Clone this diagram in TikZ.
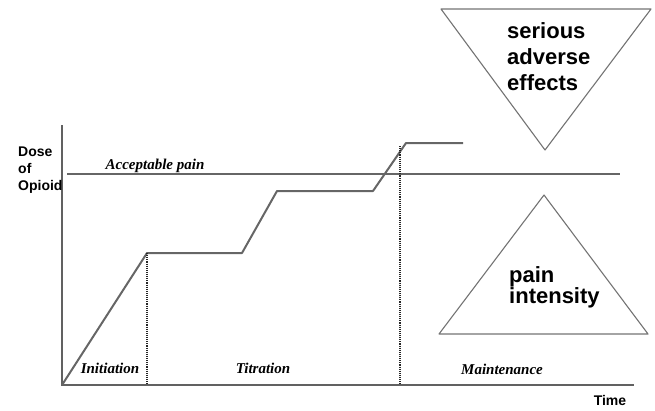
\documentclass[tikz,border=0pt]{standalone}
\usepackage{fontspec}
\setmainfont{Liberation Serif}
\setsansfont{Liberation Sans}
\usetikzlibrary{positioning}

\begin{document}
\begin{tikzpicture}[x=1pt, y=-1pt,
    axis/.style={draw=black!62, line width=2.4pt},
    dose/.style={draw=black!60, line width=2pt, line join=round},
    goal/.style={draw=black!60, line width=2.4pt},
    phase/.style={draw=black!85, densely dotted, line width=1.1pt},
    tri/.style={draw=black!55, line width=1.1pt, line join=round},
    lbl/.style={font=\sffamily\bfseries\fontsize{14}{17}\selectfont, align=left, inner sep=0pt},
    big/.style={font=\sffamily\bfseries\fontsize{22}{26}\selectfont, align=left, inner sep=0pt},
    stage/.style={font=\bfseries\itshape\fontsize{15}{18}\selectfont, inner sep=0pt}]
  \useasboundingbox (0,0) rectangle (655,410);
  % axes
  \coordinate (o) at (62,385);
  \coordinate (ytop) at (62,125);
  \coordinate (xend) at (634,385);
  \draw[axis] (ytop) -- (o) -- (xend);
  \node[lbl, anchor=base west] (ylab) at (18,190) {Dose\\of\\Opioid};
  \node[lbl, anchor=base] (xlab) at (610,405) {Time};
  % acceptable pain level
  \coordinate (ap1) at (67,174);
  \coordinate (ap2) at (620,174);
  \draw[goal] (ap1) -- (ap2);
  \node[stage, anchor=base] (aplab) at (155,169) {Acceptable pain};
  % dose curve
  \coordinate (d1) at (147,253);
  \coordinate (d2) at (242,253);
  \coordinate (d3) at (277,191);
  \coordinate (d4) at (373,191);
  \coordinate (d5) at (406,143);
  \coordinate (d6) at (463,143);
  \draw[dose] (o) -- (d1) -- (d2) -- (d3) -- (d4) -- (d5) -- (d6);
  % phases
  \coordinate (p1) at (147,385);
  \coordinate (p2a) at (400,146);
  \coordinate (p2) at (400,385);
  \draw[phase] (d1) -- (p1);
  \draw[phase] (p2a) -- (p2);
  \node[stage, anchor=base] (init) at (110,373) {Initiation};
  \node[stage, anchor=base] (titr) at (263,373) {Titration};
  \node[stage, anchor=base] (mnt) at (502,374) {Maintenance};
  % triangles
  \coordinate (s1) at (441,9);
  \coordinate (s2) at (651,9);
  \coordinate (s3) at (545,150);
  \draw[tri] (s1) -- (s2) -- (s3) -- cycle;
  \node[big, anchor=base west] (sae) at (507,90) {serious\\adverse\\effects};
  \coordinate (t1) at (439,334);
  \coordinate (t2) at (648,334);
  \coordinate (t3) at (544,195);
  \draw[tri] (t1) -- (t2) -- (t3) -- cycle;
  \node[big, anchor=base west, font=\sffamily\bfseries\fontsize{22}{21}\selectfont] (pi) at (509,303) {pain\\intensity};
\end{tikzpicture}
\end{document}
